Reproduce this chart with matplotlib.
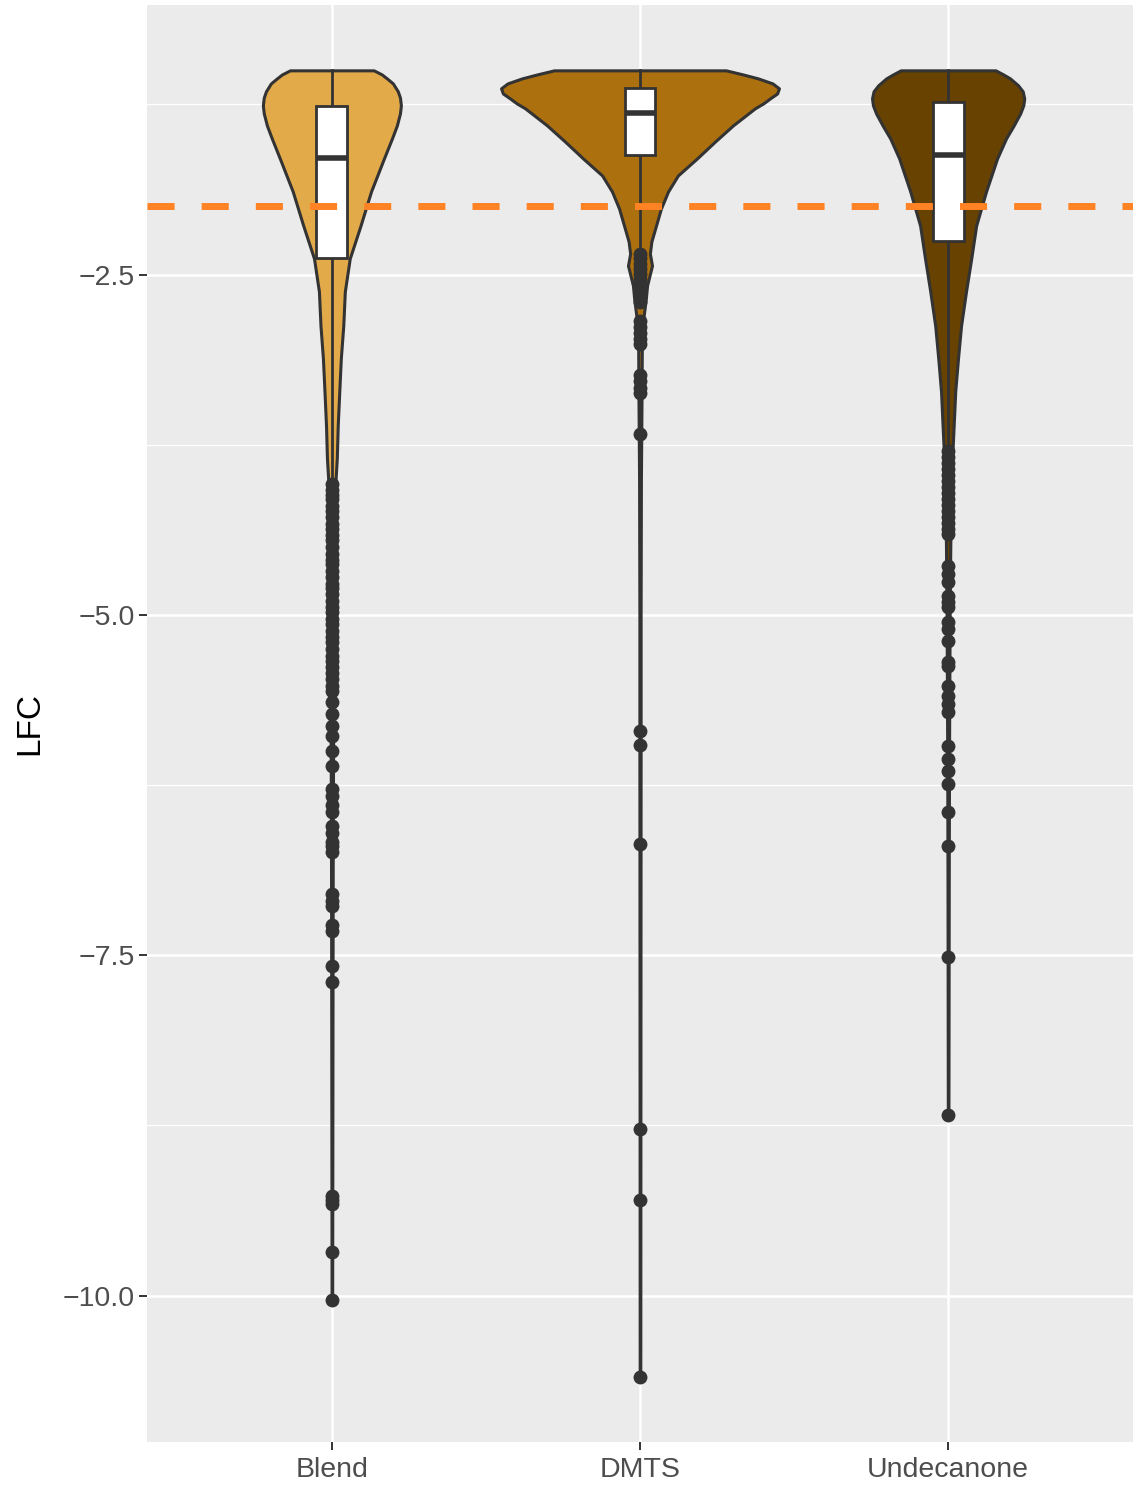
import numpy as np
import matplotlib.pyplot as plt
from matplotlib.patches import Rectangle

plt.rcParams['font.family'] = ['Liberation Sans', 'DejaVu Sans']

# groups and fills
groups = ['Blend', 'DMTS', 'Undecanone']
fill_colors = ['#E3AA4A', '#AD700E', '#684200']

# violin outlines: LFC level and half width (in x units)
blend_lfc = [-1.0, -1.03, -1.06, -1.096, -1.154, -1.2, -1.257, -1.316, -1.404, -1.5,
             -1.647, -1.89, -2.14, -2.382, -2.625, -2.875, -3.118, -3.36, -3.61,
             -3.85, -4.04, -4.5, -5.5, -6.5, -8.0, -10.03]
blend_halfwidth = [0.136, 0.162, 0.179, 0.198, 0.214, 0.221, 0.224, 0.221, 0.211, 0.195,
                   0.169, 0.127, 0.093, 0.058, 0.042, 0.037, 0.029, 0.024, 0.019,
                   0.016, 0.011, 0.008, 0.005, 0.003, 0.002, 0.001]

dmts_lfc = [-1.0, -1.03, -1.059, -1.096, -1.132, -1.17, -1.206, -1.243, -1.279, -1.404,
            -1.522, -1.647, -1.772, -1.89, -2.015, -2.14, -2.257, -2.346, -2.434,
            -2.58, -2.676, -2.82, -3.0, -3.4, -4.0, -5.0, -6.0, -8.0, -10.6]
dmts_halfwidth = [0.279, 0.334, 0.383, 0.43, 0.451, 0.445, 0.422, 0.4, 0.373, 0.302,
                  0.244, 0.185, 0.123, 0.091, 0.068, 0.052, 0.037, 0.032, 0.039,
                  0.023, 0.019, 0.011, 0.006, 0.005, 0.003, 0.002, 0.002, 0.0015, 0.001]

undec_lfc = [-1.0, -1.03, -1.059, -1.11, -1.154, -1.206, -1.257, -1.316, -1.404, -1.5,
             -1.647, -1.89, -2.14, -2.382, -2.625, -2.875, -3.118, -3.36, -3.61,
             -3.757, -4.0, -4.5, -5.0, -6.0, -7.0, -8.68]
undec_halfwidth = [0.154, 0.179, 0.201, 0.227, 0.242, 0.247, 0.244, 0.234, 0.213, 0.188,
                   0.159, 0.123, 0.091, 0.075, 0.058, 0.042, 0.032, 0.023, 0.018,
                   0.015, 0.010, 0.007, 0.005, 0.003, 0.002, 0.001]

# boxplot statistics
box_q1 = [-2.382, -1.625, -2.25]
box_median = [-1.647, -1.316, -1.625]
box_q3 = [-1.265, -1.132, -1.235]
whisker_low = [-4.0, -2.34, -3.77]
whisker_high = [-1.0, -1.0, -1.0]

# outliers
blend_outliers = [-4.04, -4.08, -4.12, -4.15, -4.2, -4.24, -4.28, -4.33, -4.37, -4.41,
                  -4.45, -4.5, -4.55, -4.6, -4.63, -4.68, -4.72, -4.77, -4.8, -4.85,
                  -4.9, -4.94, -4.98, -5.03, -5.07, -5.12, -5.16, -5.2, -5.25, -5.3,
                  -5.34, -5.38, -5.43, -5.47, -5.52, -5.56, -5.64, -5.73, -5.82, -5.89,
                  -6.0, -6.11, -6.28, -6.33, -6.4, -6.45, -6.55, -6.6, -6.67, -6.7,
                  -6.74, -7.05, -7.1, -7.14, -7.28, -7.32, -7.58, -7.7, -9.27, -9.3,
                  -9.33, -9.68, -10.03]
dmts_outliers = [-2.346, -2.382, -2.419, -2.456, -2.493, -2.53, -2.566, -2.603, -2.647,
                 -2.699, -2.838, -2.882, -2.926, -2.97, -3.007, -3.235, -3.279, -3.331,
                 -3.368, -3.669, -5.853, -5.956, -6.684, -8.779, -9.301, -10.596]
undec_outliers = [-3.794, -3.838, -3.882, -3.926, -3.97, -4.015, -4.059, -4.103, -4.147,
                  -4.191, -4.235, -4.279, -4.324, -4.368, -4.404, -4.64, -4.699, -4.757,
                  -4.86, -4.904, -4.941, -5.051, -5.103, -5.191, -5.346, -5.375, -5.522,
                  -5.596, -5.654, -5.713, -5.963, -6.059, -6.147, -6.243, -6.449, -6.699,
                  -7.515, -8.676]

threshold = -2.0

yticks = [-2.5, -5.0, -7.5, -10.0]
ytick_labels = ['\u22122.5', '\u22125.0', '\u22127.5', '\u221210.0']
yminor = [-1.25, -3.75, -6.25, -8.75]

violin_lfc = [blend_lfc, dmts_lfc, undec_lfc]
violin_hw = [blend_halfwidth, dmts_halfwidth, undec_halfwidth]
outliers = [blend_outliers, dmts_outliers, undec_outliers]

dark = '#333333'

fig = plt.figure(figsize=(11.39, 14.85), dpi=100)
ax = fig.add_axes([147 / 1139, 43 / 1485, 986 / 1139, 1437 / 1485])
ax.set_facecolor('#EBEBEB')

# grid
for y in yminor:
    ax.axhline(y, color='white', lw=0.9, zorder=0)
for y in yticks:
    ax.axhline(y, color='white', lw=1.8, zorder=0)
for i in range(len(groups)):
    ax.axvline(i + 1, color='white', lw=1.8, zorder=0)

for i, g in enumerate(groups):
    pos = i + 1
    lfc = np.array(violin_lfc[i])
    hw = np.array(violin_hw[i])
    ax.fill_betweenx(lfc, pos - hw, pos + hw, facecolor=fill_colors[i],
                     edgecolor=dark, lw=2.2, joinstyle='round', zorder=2)
    # whiskers
    ax.plot([pos, pos], [box_q3[i], whisker_high[i]], color=dark, lw=2.0, zorder=3)
    ax.plot([pos, pos], [box_q1[i], whisker_low[i]], color=dark, lw=2.0, zorder=3)
    # box
    ax.add_patch(Rectangle((pos - 0.05, box_q1[i]), 0.1, box_q3[i] - box_q1[i],
                           facecolor='white', edgecolor=dark, lw=2.0, zorder=4))
    ax.plot([pos - 0.05, pos + 0.05], [box_median[i]] * 2, color=dark, lw=4.0,
            solid_capstyle='butt', zorder=5)
    # outliers
    ax.plot([pos] * len(outliers[i]), outliers[i], 'o', color=dark, ms=10,
            mew=0, zorder=5)

ax.axhline(threshold, color='#FF8224', lw=5, dashes=(3.9, 3.9), zorder=6)

ax.set_xlim(0.4, 3.6)
ax.set_ylim(-11.076, -0.52)
ax.set_xticks([1, 2, 3])
ax.set_xticklabels(groups)
ax.set_yticks(yticks)
ax.set_yticklabels(ytick_labels)
ax.tick_params(axis='both', length=5.5, width=1.4, color=dark, labelcolor='#4D4D4D',
               labelsize=20.5, pad=3)
ax.tick_params(axis='x', pad=5)
for s in ax.spines.values():
    s.set_visible(False)

ax.set_ylabel('LFC', fontsize=24, color='black')
ax.yaxis.set_label_coords(-0.1034, 0.5)

fig.savefig('out.png', dpi=100)
